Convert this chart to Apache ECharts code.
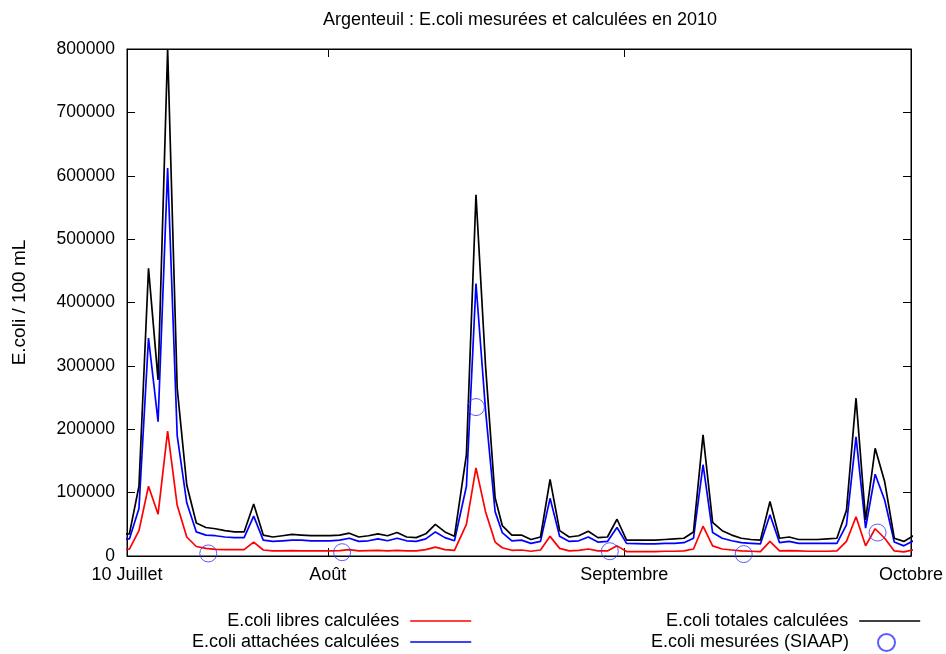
<!DOCTYPE html>
<html><head><meta charset="utf-8">
<script src="https://cdn.jsdelivr.net/npm/echarts@6/dist/echarts.min.js"></script>
<style>html,body{margin:0;padding:0;background:#fff}#c{width:946px;height:654px}</style>
</head><body><div id="c"></div>
<script>
// Days counted from 10 July 2010 (axis: 0 = 10 Juillet, 21 = Août, 52 = Septembre, 82 = Octobre)
const days = [-0.75,0.25,1.25,2.25,3.25,4.25,5.25,6.25,7.25,8.25,9.25,10.25,11.25,12.25,13.25,14.25,15.25,16.25,17.25,18.25,19.25,20.25,21.25,22.25,23.25,24.25,25.25,26.25,27.25,28.25,29.25,30.25,31.25,32.25,33.25,34.25,35.5,36.5,37.5,38.5,39.25,40.25,41.25,42.25,43.25,44.25,45.25,46.25,47.25,48.25,49.25,50.25,51.25,52.25,53.25,54.25,55.25,56.25,57.25,58.25,59.25,60.25,61.25,62.25,63.25,64.25,65.25,66.25,67.25,68.25,69.25,70.25,71.25,72.25,73.25,74.25,75.25,76.25,77.25,78.25,79.25,80.25,81.25,82.25];
const freeCalc = [10000,11000,40000,110000,66000,197000,80000,30000,15000,12000,10500,10000,10000,10000,22000,9500,8000,8000,8500,8000,8000,8000,8000,8500,10000,8000,8500,9000,8000,9000,8000,8000,10000,14000,10000,9000,50000,139000,70000,22000,13000,9000,9500,7500,9500,31000,12000,8000,9000,11000,8000,8000,16000,7000,7000,7000,7000,7500,7500,8000,11000,47000,16000,11000,9500,8000,7500,7000,23000,8000,8500,8000,7500,7500,7500,8000,23000,62000,16000,43000,28000,8000,6500,10000];
const attachedCalc = [27000,27000,75000,344000,212000,612000,190000,84000,38000,33000,32000,30000,29000,29000,63000,25000,23000,24000,25000,25000,24000,24000,24000,25000,28000,23000,24000,27000,24000,28000,24000,23000,27000,38000,29000,24000,110000,430000,230000,70000,37000,24000,25000,20000,23000,91000,31000,23000,24000,30000,22000,23000,45000,20000,19500,19000,19000,20000,20000,21000,28000,144000,37000,28000,24000,21000,20000,19000,65000,21000,23000,20000,20000,20000,20000,20000,49000,188000,44000,129000,88000,22000,16000,24000];
const totalCalc = [34000,35000,110000,454000,278000,800000,265000,112000,52000,45000,43000,40000,38000,38000,82000,33000,30000,32000,34000,33000,32000,32000,32000,33000,36000,30000,32000,35000,32000,37000,30000,29000,35000,50000,38000,31000,160000,570000,300000,92000,48000,33000,33000,26000,30000,121000,40000,30000,32000,39000,29000,30000,58000,25000,25000,25000,25000,26000,27000,28000,38000,191000,53000,40000,33000,28000,26000,25000,86000,28000,30000,26000,26000,26000,27000,28000,72000,249000,57000,170000,117000,28000,23000,32000];
const measuredDays = [8.5,22.5,36.5,50.5,64.5,78.5];
const measuredVals = [4000,6000,235000,7500,3000,37000];
const xTickDays = [0,21,52,82];
const xTickLabels = ['10 Juillet','Août','Septembre','Octobre'];
const seriesNames = ['E.coli libres calculées','E.coli attachées calculées','E.coli totales calculées','E.coli mesurées (SIAAP)'];

const FONT = '"Liberation Sans", Arial, sans-serif';
const FS = 18;
const pair = (xs, ys) => xs.map((x, i) => [x, ys[i]]);

const chart = echarts.init(document.getElementById('c'), null, {renderer: 'canvas'});
const tickStyle = () => ({show: true, inside: true, length: 8, lineStyle: {color: '#000', width: 1}});
const axisLineStyle = () => ({show: true, onZero: false, lineStyle: {color: '#000', width: 1}});
const legendBase = {orient: 'horizontal', align: 'right', itemWidth: 61, itemHeight: 17, padding: 0,
  textStyle: {fontFamily: FONT, fontSize: FS, color: '#000', padding: [0, 6, 0, 0]}, selectedMode: false};
const lineLegend = {itemStyle: {opacity: 0}, lineStyle: {width: 1.6}};

chart.setOption({
  animation: false,
  backgroundColor: '#fff',
  graphic: [{type: 'text', x: 520, y: 11, style: {text: 'Argenteuil : E.coli mesurées et calculées en 2010',
    font: FS + 'px ' + FONT, fill: '#000', textAlign: 'center', textVerticalAlign: 'top'}}],
  grid: {left: 127, right: 35, top: 49, bottom: 98, show: true, borderColor: '#000', borderWidth: 1,
    containLabel: false, outerBoundsMode: 'none'},
  legend: [
    Object.assign({}, legendBase, lineLegend, {data: [seriesNames[0]], right: 474, top: 612}),
    Object.assign({}, legendBase, lineLegend, {data: [seriesNames[1]], right: 474, top: 633}),
    Object.assign({}, legendBase, lineLegend, {data: [seriesNames[2]], right: 25, top: 612}),
    Object.assign({}, legendBase, {data: [seriesNames[3]], right: 50, top: 633, itemWidth: 17,
      textStyle: {fontFamily: FONT, fontSize: FS, color: '#000', padding: [0, 24, 0, 0]}})
  ],
  xAxis: [{
    type: 'value', min: 0, max: 82, position: 'bottom',
    axisLine: axisLineStyle(),
    splitLine: {show: false},
    axisTick: Object.assign({customValues: xTickDays}, tickStyle()),
    axisLabel: {customValues: xTickDays, color: '#000', fontFamily: FONT, fontSize: FS, margin: 10,
      formatter: v => { const i = xTickDays.indexOf(v); return i >= 0 ? xTickLabels[i] : ''; }}
  }, {
    type: 'value', min: 0, max: 82, position: 'top',
    axisLine: axisLineStyle(),
    splitLine: {show: false},
    axisTick: Object.assign({customValues: xTickDays}, tickStyle()),
    axisLabel: {show: false}
  }],
  yAxis: [{
    type: 'value', min: 0, max: 800000, interval: 100000, position: 'left',
    name: 'E.coli / 100 mL', nameLocation: 'middle', nameGap: 98, nameRotate: 90,
    nameTextStyle: {fontFamily: FONT, fontSize: 19, color: '#000'},
    axisLine: axisLineStyle(),
    splitLine: {show: false},
    axisTick: tickStyle(),
    axisLabel: {color: '#000', fontFamily: FONT, fontSize: 17.5, margin: 12, formatter: v => String(v)}
  }, {
    type: 'value', min: 0, max: 800000, interval: 100000, position: 'right',
    axisLine: axisLineStyle(),
    splitLine: {show: false},
    axisTick: tickStyle(),
    axisLabel: {show: false}
  }],
  series: [
    {name: seriesNames[0], type: 'line', data: pair(days, freeCalc), showSymbol: false, symbol: 'none',
      lineStyle: {color: '#ff0000', width: 1.7}, itemStyle: {color: '#ff0000'}, clip: true, z: 2},
    {name: seriesNames[1], type: 'line', data: pair(days, attachedCalc), showSymbol: false, symbol: 'none',
      lineStyle: {color: '#0000ff', width: 1.7}, itemStyle: {color: '#0000ff'}, clip: true, z: 3},
    {name: seriesNames[2], type: 'line', data: pair(days, totalCalc), showSymbol: false, symbol: 'none',
      lineStyle: {color: '#000000', width: 1.7}, itemStyle: {color: '#000000'}, clip: true, z: 4},
    {name: seriesNames[3], type: 'scatter', data: pair(measuredDays, measuredVals), symbol: 'circle', symbolSize: 17,
      itemStyle: {color: 'rgba(0,0,0,0)', borderColor: '#3333ff', borderWidth: 1}, clip: false, z: 5}
  ]
});
</script></body></html>
